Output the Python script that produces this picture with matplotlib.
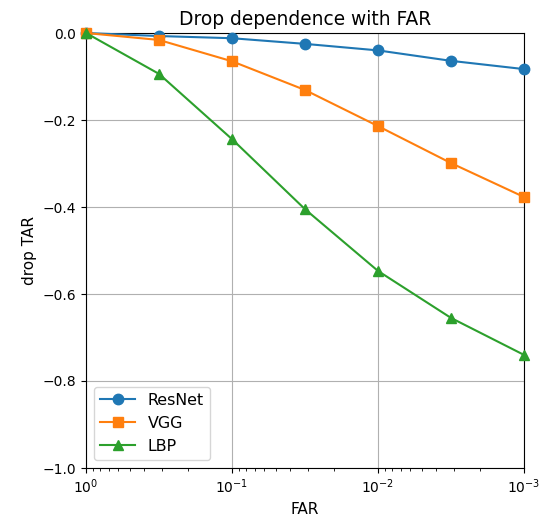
import numpy as np
import matplotlib
matplotlib.use('Agg')
from matplotlib import pyplot as plt

far = [1, 10**-0.5, 1e-1, 10**-1.5, 1e-2, 10**-2.5, 1e-3]
resnet = [0, -0.007, -0.012, -0.025, -0.040, -0.064, -0.083]
vgg = [0, -0.016, -0.065, -0.131, -0.214, -0.299, -0.377]
lbp = [0, -0.094, -0.244, -0.405, -0.547, -0.655, -0.740]

fig = plt.figure(figsize=(5.45, 5.18), dpi=100)
ax = fig.add_axes([86/545, 1 - 468/518, (524-86)/545, (468-33)/518])

ms = 7.5
ax.plot(far, resnet, marker='o', ms=ms, color='#1f77b4', label='ResNet', clip_on=False, zorder=3)
ax.plot(far, vgg, marker='s', ms=ms, color='#ff7f0e', label='VGG', clip_on=False, zorder=3)
ax.plot(far, lbp, marker='^', ms=ms, color='#2ca02c', label='LBP', clip_on=False, zorder=3)

ax.set_xscale('log')
ax.set_xlim(1, 1e-3)
ax.set_ylim(-1.0, 0.0)
ax.set_yticks(np.arange(-1.0, 0.01, 0.2))
ax.grid(True, color='#b0b0b0', linewidth=0.8)
ax.set_xlabel('FAR', fontsize=11)
ax.set_ylabel('drop TAR', fontsize=11)
ax.set_title('Drop dependence with FAR', fontsize=13.4)
ax.legend(loc='lower left', fontsize=11.4, handlelength=2.2)

fig.savefig('out.png', dpi=100)
